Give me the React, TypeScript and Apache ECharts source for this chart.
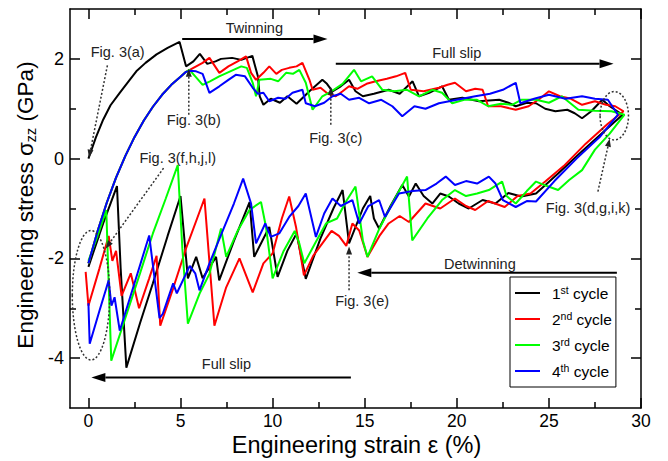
import React, { useEffect, useRef } from 'react';
import * as echarts from 'echarts';

const FONT = '"Liberation Sans", Arial, Helvetica, sans-serif';

// ---- axes ----
const xMajorTicks = [0, 5, 10, 15, 20, 25, 30];
const xMinorTicks = [2.5, 7.5, 12.5, 17.5, 22.5, 27.5];
const yMajorTicks = [-4, -2, 0, 2];
const yMinorTicks = [-3, -1, 1];

// ---- legend ----
const cycleNames = ['1st cycle', '2nd cycle', '3rd cycle', '4th cycle'];
const legendNumbers = ['1', '2', '3', '4'];
const legendSuffixes = ['st', 'nd', 'rd', 'th'];
const cycleColors = ['#000000', '#ff0000', '#00ff00', '#0000ff'];

// ---- data: [strain %, stress GPa] ----
// cycle 1 loading (tension)
const c1Load = [
  [0, 0], [0.4, 0.42], [0.8, 0.78], [1.2, 1.07], [1.7, 1.32], [2.2, 1.56], [2.6, 1.75], [3.1, 1.92],
  [3.7, 2.09], [4.3, 2.22], [4.95, 2.34], [5.3, 1.85], [5.7, 1.95], [6.05, 2.1], [6.45, 1.9], [6.9, 1.95],
  [7.2, 2.0], [7.8, 2.02], [8.3, 1.98], [8.9, 2.06], [9.2, 1.65], [9.3, 1.25], [9.5, 1.08], [9.9, 1.2],
  [10.4, 1.12], [10.8, 1.25], [11.3, 1.1], [12.0, 1.35], [12.7, 1.58], [12.95, 1.5], [13.25, 1.35],
  [13.7, 1.45], [14.15, 1.58], [14.5, 1.35], [14.9, 1.25], [15.5, 1.3], [16.3, 1.38], [16.9, 1.3],
  [17.6, 1.55], [17.95, 1.25], [18.5, 1.32], [19.2, 1.45], [19.57, 1.18], [20.3, 1.22], [21.2, 1.15],
  [22.3, 1.18], [22.8, 1.12], [23.2, 1.05], [23.8, 1.12], [24.3, 1.11], [24.8, 1.0], [25.35, 0.95],
  [26.0, 0.98], [26.4, 0.91], [26.8, 0.81], [27.3, 0.95], [27.9, 1.18], [28.3, 1.05], [29.0, 0.88],
];
// cycle 1 unloading (compression), listed by increasing strain
const c1Unload = [
  [0, -2.17], [0.8, -1.3], [1.55, -0.55], [1.75, -2.2], [2.06, -4.19], [2.8, -3.3], [3.5, -2.5],
  [4.3, -1.55], [5.0, -0.75], [5.4, -2.4], [5.85, -1.97], [6.2, -2.4], [6.93, -1.97], [7.1, -2.44],
  [7.9, -1.65], [8.75, -0.87], [9.0, -1.97], [9.82, -1.37], [10.27, -2.37], [10.8, -1.85], [11.3, -1.5],
  [11.8, -2.41], [12.6, -1.6], [13.3, -1.0], [13.8, -0.63], [14.15, -1.7], [14.9, -1.0], [15.3, -0.75],
  [15.5, -1.2], [15.78, -1.4], [16.4, -0.95], [17.04, -0.53], [17.4, -0.76], [17.77, -0.5], [18.2, -0.75],
  [18.67, -0.9], [19.1, -0.7], [19.57, -0.76], [20.1, -0.9], [20.65, -1.0], [21.4, -0.83], [22.1, -0.9],
  [22.8, -0.69], [23.5, -0.76], [24.3, -0.7], [25.5, -0.3], [26.8, 0.15], [28.0, 0.55], [29.0, 0.88],
];
// reloading curve shared by cycles 2-4
const reloadCurve = [
  [0, -2.1], [0.5, -1.45], [1, -0.88], [1.5, -0.38], [2, 0.05], [2.5, 0.43], [3, 0.76], [3.5, 1.04],
  [4, 1.28], [4.5, 1.48], [5, 1.64], [5.3, 1.74],
];
const c2LoadTail = [
  [5.85, 1.85], [6.2, 1.92], [6.57, 2.02], [7.11, 1.72], [7.6, 1.85], [8.1, 1.95], [8.56, 2.05],
  [8.83, 1.72], [9.1, 1.58], [9.5, 1.72], [9.82, 1.85], [10.2, 1.7], [10.5, 1.78], [10.9, 1.82],
  [11.3, 1.85], [11.62, 1.92], [12.0, 1.58], [12.17, 1.38], [12.6, 1.42], [13.0, 1.3], [13.43, 1.25],
  [13.8, 1.35], [14.15, 1.45], [14.6, 1.4], [15.1, 1.5], [15.6, 1.55], [16.2, 1.6], [16.7, 1.65],
  [17.2, 1.72], [17.5, 1.38], [18.2, 1.35], [19.03, 1.42], [19.5, 1.48], [19.9, 1.52], [20.5, 1.35],
  [21.0, 1.4], [21.4, 1.38], [21.7, 1.05], [22.4, 1.05], [23.2, 0.98], [23.9, 1.05], [24.5, 1.2],
  [25.0, 1.35], [25.6, 1.25], [26.2, 1.2], [26.8, 1.08], [27.5, 1.15], [28.1, 1.08], [28.6, 1.05],
  [29.05, 0.95],
];
const c2Unload = [
  [-0.15, -2.27], [0, -2.95], [0.6, -2.2], [1.1, -1.55], [1.3, -2.05], [1.5, -1.85], [1.8, -2.75],
  [2.3, -2.3], [2.75, -3.0], [3.3, -2.4], [3.7, -1.95], [3.9, -3.35], [4.6, -2.6], [5.3, -1.8],
  [5.9, -1.2], [6.3, -0.8], [6.84, -3.35], [7.48, -2.58], [8.2, -2.0], [8.92, -2.68], [9.5, -2.1],
  [10.0, -1.9], [10.5, -1.2], [10.9, -0.76], [11.27, -1.37], [11.7, -2.34], [12.2, -1.95], [12.7, -1.7],
  [13.2, -1.45], [13.6, -1.55], [14.0, -1.75], [14.33, -1.3], [14.7, -1.44], [15.15, -1.97],
  [15.8, -1.55], [16.3, -1.3], [16.9, -1.15], [17.4, -1.27], [18.3, -0.9], [19.1, -1.0], [19.9, -0.8],
  [20.5, -0.95], [21.0, -1.03], [21.7, -0.85], [22.6, -0.97], [23.3, -0.75], [24.0, -0.7], [24.8, -0.46],
  [25.8, -0.15], [27.0, 0.3], [28.2, 0.7], [29.05, 0.95],
];
const c3LoadTail = [
  [5.49, 1.78], [5.8, 1.65], [6.2, 1.48], [6.6, 1.55], [7.1, 1.65], [7.7, 1.75], [8.3, 1.85],
  [8.6, 1.82], [8.92, 1.52], [9.1, 1.25], [9.28, 1.58], [9.9, 1.6], [10.3, 1.55], [10.73, 1.72],
  [11.1, 1.7], [11.45, 1.78], [11.8, 1.52], [12.17, 0.98], [12.7, 1.25], [13.2, 1.35], [13.8, 1.5],
  [14.42, 1.78], [14.8, 1.55], [15.4, 1.65], [15.96, 1.38], [16.6, 1.35], [17.3, 1.38], [17.95, 1.25],
  [18.67, 1.38], [19.2, 1.32], [19.75, 1.11], [20.4, 1.18], [21.1, 1.18], [21.7, 1.05], [22.4, 1.1],
  [23.0, 1.08], [23.5, 1.18], [24.3, 1.18], [25.0, 1.12], [25.7, 1.25], [26.6, 0.98], [27.5, 0.96],
  [28.4, 0.95], [29.1, 0.88],
];
const c3Unload = [
  [0, -2.05], [0.5, -1.55], [0.97, -1.03], [1.1, -2.5], [1.24, -4.05], [2.0, -3.2], [2.8, -2.3],
  [3.5, -1.5], [4.2, -0.8], [4.85, -0.13], [5.1, -1.8], [5.4, -3.31], [6.03, -2.71], [6.57, -2.31],
  [7.2, -1.4], [7.48, -1.97], [8.1, -1.45], [8.74, -1.03], [9.37, -0.87], [9.64, -1.37], [10.0, -2.4],
  [10.6, -1.85], [11.2, -1.45], [11.45, -1.7], [11.72, -2.1], [12.3, -1.7], [12.9, -1.3], [13.5, -1.2],
  [14.0, -0.85], [14.5, -0.56], [14.9, -1.64], [15.15, -1.97], [15.8, -1.4], [16.5, -0.9], [17.3, -0.36],
  [17.58, -1.64], [18.4, -1.2], [19.2, -0.83], [19.9, -0.63], [20.5, -0.75], [21.1, -0.7], [21.74, -0.63],
  [22.46, -0.46], [22.7, -0.75], [23.2, -0.9], [23.8, -0.65], [24.3, -0.46], [24.9, -0.55], [25.5, -0.63],
  [26.1, -0.43], [26.8, -0.23], [27.5, 0.18], [28.3, 0.5], [29.1, 0.88],
];
const c4LoadTail = [
  [5.5, 1.76], [5.85, 1.75], [6.2, 1.7], [6.57, 1.32], [7.11, 1.45], [7.6, 1.58], [8.0, 1.68],
  [8.5, 1.65], [8.92, 1.42], [9.2, 1.3], [9.5, 1.32], [9.82, 1.15], [10.3, 1.22], [10.7, 1.2],
  [11.08, 1.32], [11.62, 1.38], [11.8, 1.11], [12.3, 1.05], [12.8, 1.12], [13.25, 1.25], [13.7, 1.3],
  [14.15, 1.18], [14.7, 1.22], [15.24, 1.11], [15.9, 1.18], [16.5, 1.05], [17.04, 0.85], [17.7, 1.05],
  [18.3, 1.0], [19.03, 1.11], [20.0, 1.18], [21.0, 1.25], [21.8, 1.3], [22.5, 1.38], [23.2, 1.52],
  [23.45, 1.11], [24.2, 1.2], [25.0, 1.28], [25.9, 1.2], [26.8, 1.25], [27.5, 1.2], [28.2, 1.18],
  [28.75, 0.88],
];
const c4Unload = [
  [0, -2.9], [0.07, -3.71], [0.6, -3.05], [0.97, -2.6], [1.1, -2.44], [1.25, -2.95], [1.42, -2.78],
  [1.7, -3.45], [2.5, -2.5], [3.3, -1.54], [3.86, -3.2], [4.04, -3.11], [4.6, -2.5], [4.8, -2.7],
  [5.5, -2.15], [5.8, -2.3], [6.03, -2.64], [6.57, -2.1], [7.3, -1.44], [7.9, -0.9], [8.4, -0.4],
  [8.83, -0.9], [9.1, -1.7], [9.6, -1.3], [9.9, -1.57], [10.36, -1.5], [10.9, -1.17], [11.4, -0.95],
  [11.8, -0.7], [12.35, -1.57], [12.8, -1.1], [13.25, -0.8], [13.7, -0.95], [14.33, -0.83], [14.7, -1.3],
  [15.2, -0.95], [15.78, -0.83], [16.1, -1.17], [16.86, -0.7], [17.6, -0.65], [18.3, -0.63], [18.9, -0.5],
  [19.4, -0.36], [19.9, -0.53], [20.5, -0.45], [21.1, -0.5], [21.74, -0.36], [22.1, -0.5], [22.5, -0.83],
  [23.2, -0.97], [23.8, -0.85], [24.3, -0.86], [25.3, -0.45], [26.5, 0.0], [27.8, 0.45], [28.75, 0.88],
];

// ---- annotations (data coordinates) ----
const annotationTexts = [
  { text: 'Twinning', x: 9.01, y: 2.61 },
  { text: 'Full slip', x: 20.0, y: 2.12 },
  { text: 'Fig. 3(a)', x: 1.59, y: 2.13 },
  { text: 'Fig. 3(b)', x: 5.72, y: 0.77 },
  { text: 'Fig. 3(c)', x: 13.43, y: 0.42 },
  { text: 'Fig. 3(f,h,j,l)', x: 4.85, y: 0.02 },
  { text: 'Fig. 3(d,g,i,k)', x: 27.13, y: -0.98 },
  { text: 'Fig. 3(e)', x: 14.86, y: -2.86 },
  { text: 'Detwinning', x: 21.25, y: -2.11 },
  { text: 'Full slip', x: 7.49, y: -4.12 },
];
const solidArrows = [
  { from: [5.09, 2.4], to: [12.98, 2.4] },
  { from: [13.43, 1.9], to: [28.51, 1.9] },
  { from: [28.69, -2.29], to: [14.6, -2.29] },
  { from: [14.25, -4.39], to: [0.16, -4.39] },
];
const dottedArrows = [
  { from: [1.03, 1.87], to: [0.03, 0.02] },
  { from: [5.45, 0.88], to: [5.45, 1.8] },
  { from: [13.16, 0.68], to: [13.16, 1.44] },
  { from: [4.08, -0.19], to: [0.94, -1.8] },
  { from: [27.66, -0.66], to: [28.3, 0.4] },
  { from: [14.15, -2.64], to: [14.15, -1.76] },
];
const dottedEllipses = [
  { cx: 0.14, cy: -2.74, rx: 18.7, ry: 64.7 },
  { cx: 28.55, cy: 0.86, rx: 14.2, ry: 24.2 },
];

const cycles = [
  [...c1Load, ...[...c1Unload].reverse()],
  [...reloadCurve, ...c2LoadTail, ...[...c2Unload].reverse()],
  [...reloadCurve, ...c3LoadTail, ...[...c3Unload].reverse()],
  [...reloadCurve, ...c4LoadTail, ...[...c4Unload].reverse()],
];

function makeX(gridIndex: number, position: string, values: number[], len: number, labels: boolean) {
  return {
    type: 'value', gridIndex, position, min: -1, max: 30,
    axisLine: { show: gridIndex === 0, onZero: false, lineStyle: { color: '#000', width: 1.5 } },
    axisTick: { show: true, inside: true, length: len, customValues: values, lineStyle: { color: '#000', width: 1.5 } },
    axisLabel: labels
      ? { show: true, customValues: values, fontSize: 17.5, lineHeight: 16, color: '#000', fontFamily: FONT, margin: 5 }
      : { show: false },
    splitLine: { show: false },
  };
}
function makeY(gridIndex: number, position: string, values: number[], len: number, labels: boolean) {
  return {
    type: 'value', gridIndex, position, min: -5, max: 3,
    axisLine: { show: gridIndex === 0, onZero: false, lineStyle: { color: '#000', width: 1.5 } },
    axisTick: { show: true, inside: true, length: len, customValues: values, lineStyle: { color: '#000', width: 1.5 } },
    axisLabel: labels
      ? { show: true, customValues: values, fontSize: 18, color: '#000', fontFamily: FONT, margin: 6 }
      : { show: false },
    splitLine: { show: false },
  };
}

export default function App() {
  const ref = useRef<HTMLDivElement>(null);
  useEffect(() => {
    document.body.style.margin = '0';
    const chart = echarts.init(ref.current!, undefined, { renderer: 'svg' });
    const gridBox = { left: 70, right: 27, top: 9, bottom: 53 };
    chart.setOption({
      animation: false,
      backgroundColor: '#fff',
      grid: [{ ...gridBox }, { ...gridBox }],
      xAxis: [
        makeX(0, 'bottom', xMajorTicks, 10, true),
        makeX(0, 'top', xMajorTicks, 10, false),
        makeX(1, 'bottom', xMinorTicks, 6, false),
        makeX(1, 'top', xMinorTicks, 6, false),
      ],
      yAxis: [
        makeY(0, 'left', yMajorTicks, 10, true),
        makeY(0, 'right', yMajorTicks, 10, false),
        makeY(1, 'left', yMinorTicks, 6, false),
        makeY(1, 'right', yMinorTicks, 6, false),
      ],
      legend: {
        data: cycleNames,
        orient: 'vertical',
        left: 510,
        top: 277,
        padding: [7, 4, 8, 5],
        icon: 'rect',
        itemWidth: 25,
        itemHeight: 2,
        itemGap: 9,
        borderColor: '#000',
        borderWidth: 1,
        backgroundColor: '#fff',
        selectedMode: false,
        z: 20,
        formatter: (name: string) => {
          const i = cycleNames.indexOf(name);
          return `{n|${legendNumbers[i]}}{s|${legendSuffixes[i]}}{n| cycle}`;
        },
        textStyle: {
          padding: [0, 0, 0, 7],
          rich: {
            n: { fontSize: 15.5, lineHeight: 18, fontFamily: FONT, color: '#000' },
            s: { fontSize: 10.5, lineHeight: 6, verticalAlign: 'top', fontFamily: FONT, color: '#000' },
          },
        },
      },
      series: cycles.map((d, i) => ({
        name: cycleNames[i],
        type: 'line',
        xAxisIndex: 0,
        yAxisIndex: 0,
        data: d,
        symbol: 'none',
        showSymbol: false,
        lineStyle: { color: cycleColors[i], width: 2 },
        itemStyle: { color: cycleColors[i] },
        z: 2 + i,
      })),
    });

    const toPx = (p: number[]) => chart.convertToPixel({ gridIndex: 0 }, p) as number[];
    const graphics: any[] = [];
    const head = (from: number[], to: number[], len: number, hw: number, fill: string) => {
      const dx = to[0] - from[0];
      const dy = to[1] - from[1];
      const L = Math.hypot(dx, dy) || 1;
      const ux = dx / L, uy = dy / L;
      const bx = to[0] - ux * len, by = to[1] - uy * len;
      return {
        base: [bx, by],
        el: {
          type: 'polygon', z: 100,
          shape: { points: [[to[0], to[1]], [bx - uy * hw, by + ux * hw], [bx + uy * hw, by - ux * hw]] },
          style: { fill },
        },
      };
    };
    solidArrows.forEach((a) => {
      const f = toPx(a.from), t = toPx(a.to);
      const h = head(f, t, 14, 4.5, '#000');
      graphics.push({ type: 'line', z: 100, shape: { x1: f[0], y1: f[1], x2: h.base[0], y2: h.base[1] }, style: { stroke: '#000', lineWidth: 2 } });
      graphics.push(h.el);
    });
    dottedArrows.forEach((a) => {
      const f = toPx(a.from), t = toPx(a.to);
      const h = head(f, t, 8, 3, '#222');
      graphics.push({ type: 'line', z: 100, shape: { x1: f[0], y1: f[1], x2: h.base[0], y2: h.base[1] }, style: { stroke: '#333', lineWidth: 1.5, lineDash: [2, 2] } });
      graphics.push(h.el);
    });
    dottedEllipses.forEach((e) => {
      const c = toPx([e.cx, e.cy]);
      graphics.push({ type: 'ellipse', z: 100, shape: { cx: c[0], cy: c[1], rx: e.rx, ry: e.ry }, style: { fill: 'none', stroke: '#333', lineWidth: 1.5, lineDash: [2, 2] } });
    });
    annotationTexts.forEach((a) => {
      const p = toPx([a.x, a.y]);
      graphics.push({ type: 'text', z: 100, x: p[0], y: p[1], style: { text: a.text, fontSize: 14.5, fontFamily: FONT, fill: '#222', align: 'center', verticalAlign: 'middle' } });
    });
    // axis titles
    graphics.push({
      type: 'text', z: 100, x: 356.5, y: 445,
      style: { text: 'Engineering strain ε (%)', fontSize: 23.5, lineHeight: 20, fontFamily: FONT, fill: '#000', align: 'center', verticalAlign: 'middle' },
    });
    graphics.push({
      type: 'text', z: 100, x: 25.5, y: 205, rotation: Math.PI / 2,
      style: {
        text: '{a|Engineering stress σ}{b|zz}{a| (GPa)}',
        align: 'center', verticalAlign: 'middle', fill: '#000',
        rich: {
          a: { fontSize: 22.5, lineHeight: 25, fontFamily: FONT, fill: '#000' },
          b: { fontSize: 14.5, lineHeight: 11, verticalAlign: 'bottom', fontFamily: FONT, fill: '#000' },
        },
      },
    });
    chart.setOption({ graphic: graphics });
    return () => chart.dispose();
  }, []);
  return <div ref={ref} style={{ width: 668, height: 461 }} />;
}
